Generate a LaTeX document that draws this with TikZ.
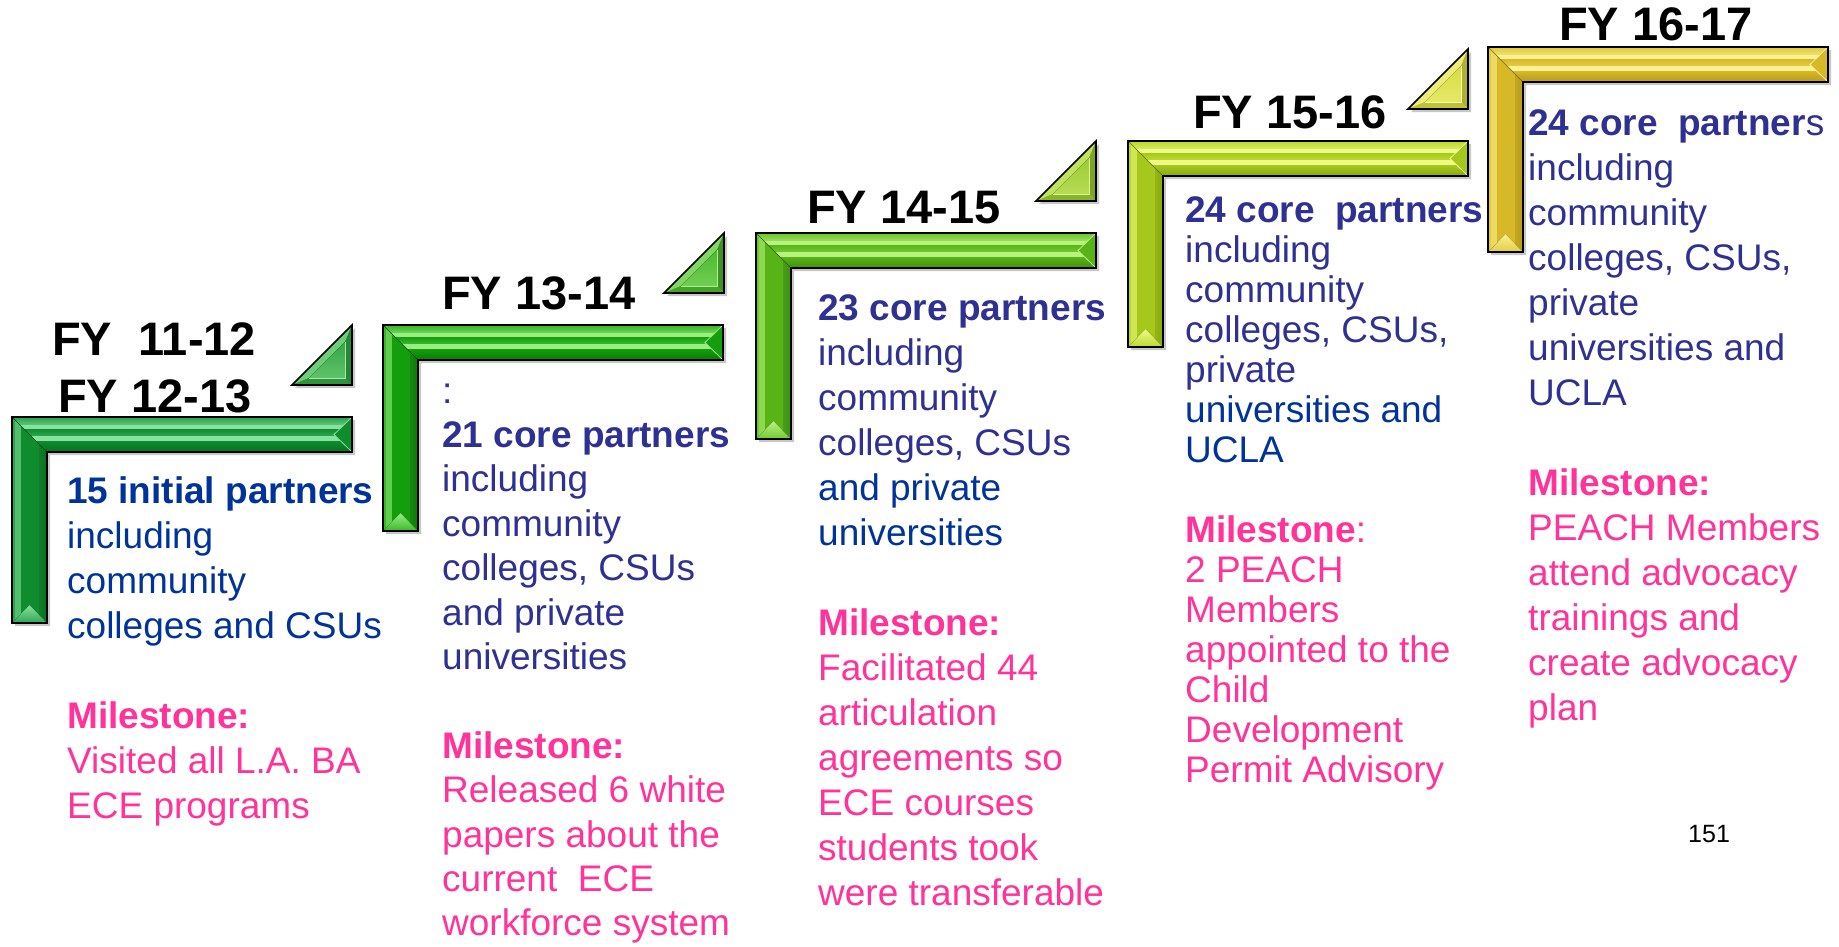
\documentclass[tikz,border=0pt]{standalone}
\usepackage{fontspec}
\setmainfont{Liberation Sans}
\definecolor{bA}{HTML}{003399}
\definecolor{bB}{HTML}{2E3192}
\definecolor{pk}{HTML}{FF3399}
% step colours: base, mid, light, dark
\definecolor{aBase}{HTML}{0E8C2E}\definecolor{aMid}{HTML}{2FA650}\definecolor{aLight}{HTML}{86E29C}\definecolor{aDark}{HTML}{07701F}
\definecolor{bBase}{HTML}{149E0E}\definecolor{bMid}{HTML}{3CB82A}\definecolor{bLight}{HTML}{98EE80}\definecolor{bDark}{HTML}{0A7A06}
\definecolor{cBase}{HTML}{58B416}\definecolor{cMid}{HTML}{72C830}\definecolor{cLight}{HTML}{BAF282}\definecolor{cDark}{HTML}{3E9010}
\definecolor{dBase}{HTML}{A6C81C}\definecolor{dMid}{HTML}{BCDA30}\definecolor{dLight}{HTML}{EEFA88}\definecolor{dDark}{HTML}{88A810}
\definecolor{eBase}{HTML}{D6B828}\definecolor{eMid}{HTML}{E4CC40}\definecolor{eLight}{HTML}{FAF094}\definecolor{eDark}{HTML}{B89A18}
% triangle colours
\definecolor{tA}{HTML}{34A844}\definecolor{tAl}{HTML}{A0EAA8}
\definecolor{tB}{HTML}{4CB830}\definecolor{tBl}{HTML}{ACF08C}
\definecolor{tC}{HTML}{9CCC30}\definecolor{tCl}{HTML}{DEF48C}
\definecolor{tD}{HTML}{D8DC40}\definecolor{tDl}{HTML}{FAFAA8}
\tikzset{
  fy/.style={anchor=base west, inner sep=0pt, font=\fontsize{47}{50}\selectfont\bfseries},
  body/.style={anchor=base west, inner sep=0pt, font=\fontsize{37}{45}\selectfont},
  outline/.style={draw=black, line width=1.6pt, line join=miter},
}
\newcommand\colines[2]{\vtop{\baselineskip=#1pt\lineskiplimit=-1000pt\lineskip=0pt\relax #2}}
\newcommand\lnb[1]{\hbox{#1}}
% #1 x, #2 y, #3 height, #4 base, #5 mid, #6 light, #7 dark
\newcommand\stepL[7]{%
\begin{scope}[shift={(#1,#2)}]
  \fill[black,opacity=0.22] (3,3) -- (343,3) -- (343,38) -- (38,38) -- (38,#3+3) -- (3,#3+3) -- cycle;
  \begin{scope}
    \clip (0,0) -- (340,0) -- (340,35) -- (35,35) -- cycle;
    \fill[#5] (0,0) rectangle (340,35);
    \fill[top color=#5, bottom color=#6!55!#5] (0,1) rectangle (340,8);
    \fill[#6] (0,8) rectangle (340,12);
    \fill[top color=#4, bottom color=#5] (0,12) rectangle (340,19);
    \fill[#6] (0,19) rectangle (340,24);
    \fill[top color=#4, bottom color=#7] (0,24) rectangle (340,35);
  \end{scope}
  \begin{scope}
    \clip (0,0) -- (35,35) -- (35,#3) -- (0,#3) -- cycle;
    \fill[left color=#5, right color=#7] (0,0) rectangle (35,#3);
    \fill[#5!60!#6] (3,0) rectangle (9,#3);
    \fill[#4] (9,0) rectangle (27,#3);
  \end{scope}
  \fill[#4] (340,0) -- (340,35) -- (322,17.5) -- cycle;
  \draw[#6, line width=0.8pt] (340,0) -- (322,17.5) -- (340,35);
  \fill[top color=#6, bottom color=#5] (0,#3) -- (35,#3) -- (17.5,#3-18) -- cycle;
  \draw[#7!70!black, line width=0.6pt] (0,0) -- (35,35);
  \draw[outline] (0,0) -- (340,0) -- (340,35) -- (35,35) -- (35,#3) -- (0,#3) -- cycle;
\end{scope}}
% #1 right x, #2 top y, #3 base, #4 light
\newcommand\tri[4]{%
\begin{scope}[shift={(#1,#2)}]
  \fill[black,opacity=0.22] (-57,63) -- (3,3) -- (3,63) -- cycle;
  \fill[#3] (-60,60) -- (0,0) -- (0,60) -- cycle;
  \fill[#4!55!#3] (-60,60) -- (0,0) -- (-7,16.9) -- (-43.1,53) -- cycle;
  \fill[#3!80!black] (0,0) -- (0,60) -- (-7,53) -- (-7,16.9) -- cycle;
  \fill[#3!88!black] (0,60) -- (-60,60) -- (-43.1,53) -- (-7,53) -- cycle;
  \fill[top color=#3, bottom color=#4!40!#3] (-43.1,53) -- (-7,16.9) -- (-7,53) -- cycle;
  \draw[#4, line width=1pt] (-7,16.9) -- (-7,53) -- (-43.1,53);
  \draw[outline] (-60,60) -- (0,0) -- (0,60) -- cycle;
\end{scope}}
\begin{document}
\begin{tikzpicture}[x=1pt,y=-1pt]
\useasboundingbox (0,0) rectangle (1839,946);
\fill[white] (0,0) rectangle (1839,946);

% steps
\stepL{12}{417}{206}{aBase}{aMid}{aLight}{aDark}
\stepL{383}{325}{206}{bBase}{bMid}{bLight}{bDark}
\stepL{756}{233}{206}{cBase}{cMid}{cLight}{cDark}
\stepL{1128}{141}{206}{dBase}{dMid}{dLight}{dDark}
\stepL{1488}{47}{205}{eBase}{eMid}{eLight}{eDark}

% small triangles
\tri{352}{325}{tA}{tAl}
\tri{724}{233}{tB}{tBl}
\tri{1096}{141}{tC}{tCl}
\tri{1468}{49}{tD}{tDl}

% year labels
\node[fy] (fy1112) at (52,355) {FY~~11-12};
\node[fy] (fy1213) at (58,412) {FY 12-13};
\node[fy] (fy1314) at (442,309) {FY 13-14};
\node[fy] (fy1415) at (807,223) {FY 14-15};
\node[fy] (fy1516) at (1193,128) {FY 15-16};
\node[fy] (fy1617) at (1559,40) {FY 16-17};

% column texts
\node[body,text=bA] (col1) at (67,503) {\colines{45}{%
\lnb{\bfseries 15 initial partners}%
\lnb{including}%
\lnb{community}%
\lnb{colleges and CSUs}%
\lnb{}%
\lnb{\color{pk}\bfseries Milestone:}%
\lnb{\color{pk}Visited all L.A. BA}%
\lnb{\color{pk}ECE programs}}};

\node[body,text=bB] (col2) at (442,403) {\colines{44.4}{%
\lnb{:}%
\lnb{\bfseries 21 core partners}%
\lnb{including}%
\lnb{community}%
\lnb{colleges, CSUs}%
\lnb{and private}%
\lnb{universities}%
\lnb{}%
\lnb{\color{pk}\bfseries Milestone:}%
\lnb{\color{pk}Released 6 white}%
\lnb{\color{pk}papers about the}%
\lnb{\color{pk}current~~ECE}%
\lnb{\color{pk}workforce system}}};

\node[body,text=bB] (col3) at (818,320) {\colines{45}{%
\lnb{\bfseries 23 core partners}%
\lnb{including}%
\lnb{community}%
\lnb{colleges, CSUs}%
\lnb{\color{bA}and private}%
\lnb{\color{bA}universities}%
\lnb{}%
\lnb{\color{pk}\bfseries Milestone:}%
\lnb{\color{pk}Facilitated 44}%
\lnb{\color{pk}articulation}%
\lnb{\color{pk}agreements so}%
\lnb{\color{pk}ECE courses}%
\lnb{\color{pk}students took}%
\lnb{\color{pk}were transferable}}};

\node[body,text=bB] (col4) at (1185,222) {\colines{40}{%
\lnb{\bfseries 24 core~~partners}%
\lnb{including}%
\lnb{community}%
\lnb{colleges, CSUs,}%
\lnb{private}%
\lnb{\color{bA}universities and}%
\lnb{\color{bA}UCLA}%
\lnb{}%
\lnb{\color{pk}{\bfseries Milestone}:}%
\lnb{\color{pk}2 PEACH}%
\lnb{\color{pk}Members}%
\lnb{\color{pk}appointed to the}%
\lnb{\color{pk}Child}%
\lnb{\color{pk}Development}%
\lnb{\color{pk}Permit Advisory}}};

\node[body,text=bB] (col5) at (1528,135) {\colines{45}{%
\lnb{{\bfseries 24 core~~partner}s}%
\lnb{including}%
\lnb{community}%
\lnb{colleges, CSUs,}%
\lnb{private}%
\lnb{universities and}%
\lnb{UCLA}%
\lnb{}%
\lnb{\color{pk}\bfseries Milestone:}%
\lnb{\color{pk}PEACH Members}%
\lnb{\color{pk}attend advocacy}%
\lnb{\color{pk}trainings and}%
\lnb{\color{pk}create advocacy}%
\lnb{\color{pk}plan}}};

\node[anchor=base west, inner sep=0pt, font=\fontsize{25}{28}\selectfont] (pagenum) at (1688,842) {151};
\end{tikzpicture}
\end{document}
